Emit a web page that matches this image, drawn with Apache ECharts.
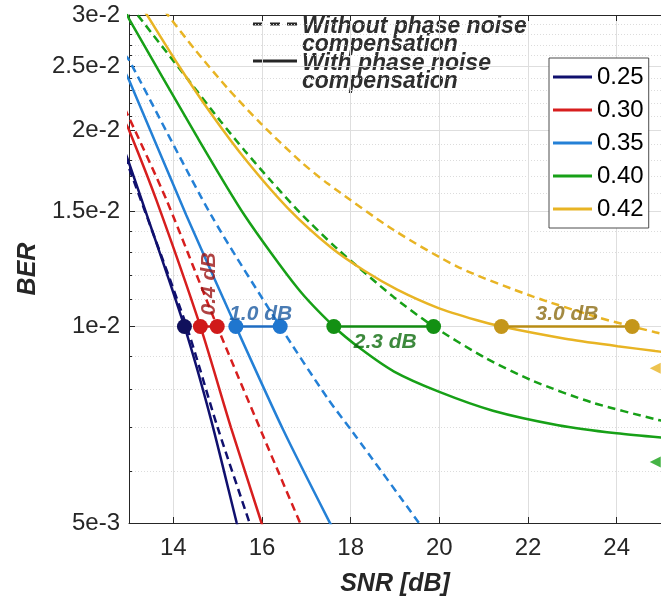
<!DOCTYPE html>
<html>
<head>
<meta charset="utf-8">
<script src="https://cdn.jsdelivr.net/npm/echarts@6/dist/echarts.min.js"></script>
<style>
  html, body { margin: 0; padding: 0; background: #fff; }
  #chart { width: 661px; height: 603px; }
</style>
</head>
<body>
<div id="chart"></div>
<script>
// ---- data ----
var snrTicks = [14, 16, 18, 20, 22, 24];
var berTicks = [0.005, 0.01, 0.015, 0.02, 0.025, 0.03];
var berTickLabels = ['5e-3', '1e-2', '1.5e-2', '2e-2', '2.5e-2', '3e-2'];
var berMinorTicks = [0.006, 0.007, 0.008, 0.009, 0.011, 0.012, 0.013, 0.014, 0.016, 0.017,
  0.018, 0.019, 0.021, 0.022, 0.023, 0.024, 0.026, 0.027, 0.028, 0.029];

var names = ['0.25', '0.30', '0.35', '0.40', '0.42'];

// with phase noise compensation (solid)
var snrWith025 = [12.9, 13, 13.29, 14.25, 14.85, 15.43, 15.55];
var berWith025 = [0.0186, 0.0178, 0.0156, 0.0100, 0.0072, 0.0050, 0.00465];
var snrWith030 = [12.9, 13, 13.62, 14.61, 15.30, 15.99, 16.1];
var berWith030 = [0.0206, 0.0200, 0.0156, 0.0100, 0.0070, 0.0050, 0.0047];
var snrWith035 = [12.9, 13, 14.29, 15.41, 16.48, 17.52, 17.65];
var berWith035 = [0.0246, 0.02385, 0.01482, 0.0100, 0.00694, 0.00502, 0.00485];
var snrWith040 = [12.95, 13, 14.52, 15.61, 16.81, 17.62, 18.22, 18.98, 20.0, 21.21, 22.68, 24.0, 25.1];
var berWith040 = [0.0301, 0.0296, 0.0196, 0.01479, 0.01143, 0.0100, 0.00925, 0.00853, 0.00794, 0.00743, 0.00706, 0.00686, 0.00675];
var snrWith042 = [13.3, 13.38, 14.12, 14.85, 15.61, 16.57, 17.55, 18.31, 19.05, 19.94, 20.83, 21.40, 22.84, 24.02, 24.87, 25.1];
var berWith042 = [0.0308, 0.0302, 0.02511, 0.02119, 0.01808, 0.01521, 0.01322, 0.01217, 0.01139, 0.0107, 0.01023, 0.0100, 0.00958, 0.00933, 0.00917, 0.00913];

// without phase noise compensation (dashed)
var snrWo025 = [12.9, 13, 14.3, 15.0, 15.72, 15.85];
var berWo025 = [0.0182, 0.0175, 0.0100, 0.0070, 0.0050, 0.0047];
var snrWo030 = [12.9, 13, 13.85, 14.99, 16.86, 17.0];
var berWo030 = [0.0216, 0.0209, 0.0156, 0.0100, 0.0050, 0.0048];
var snrWo035 = [12.9, 13, 14.85, 16.41, 17.48, 18.06, 19.54, 19.7];
var berWo035 = [0.0261, 0.0256, 0.01482, 0.0100, 0.00776, 0.00687, 0.0050, 0.0048];
var snrWo040 = [13.2, 14.34, 15.07, 15.61, 16.19, 16.86, 17.71, 18.98, 19.87, 21.05, 22.10, 23.44, 24.87, 25.1];
var berWo040 = [0.02996, 0.02385, 0.02061, 0.01859, 0.01675, 0.01493, 0.01313, 0.01108, 0.0100, 0.00894, 0.00826, 0.00765, 0.00721, 0.00715];
var snrWo042 = [13.8, 13.87, 14.49, 15.23, 15.97, 16.86, 17.48, 18.98, 20.45, 22.10, 23.57, 24.35, 24.87, 25.1];
var berWo042 = [0.0305, 0.03004, 0.02654, 0.02314, 0.02047, 0.01792, 0.01656, 0.01404, 0.01231, 0.01112, 0.01033, 0.0100, 0.0098, 0.00972];

// SNR needed for BER = 1e-2, with / without compensation
var targetBer = 0.01;
var gapSnr = [[14.25], [14.61, 14.99], [15.41, 16.41], [17.62, 19.87], [21.40, 24.35]];
var gapText = ['', '0.4 dB', '1.0 dB', '2.3 dB', '3.0 dB'];
var gapTextSnr = [0, 14.81, 15.97, 18.78, 22.88];
var gapTextBer = [0, 0.01162, 0.01044, 0.00947, 0.01044];

// arrow tips cut at the right border
var tipSnr = [24.87, 24.87];
var tipBer = [0.00863, 0.0062];

// ---- styles ----
var lineColors = ['#10106e', '#d71e1e', '#2480d6', '#17a017', '#e8b424'];
var markColors = ['#10105c', '#d01a1a', '#1f76cf', '#139013', '#c4961a'];
var gapLineColors = ['#10105c', '#c81818', '#1f6cc2', '#118a11', '#b88c14'];
var gapTextColors = ['#000', '#9c1414', '#1b5aa0', '#0d6b0d', '#8c6d14'];
var font = 'Liberation Sans, Arial, Helvetica, sans-serif';
var axisColor = '#262626';

function zip(xs, ys) {
  return xs.map(function (x, i) { return [x, ys[i]]; });
}

var withData = [zip(snrWith025, berWith025), zip(snrWith030, berWith030), zip(snrWith035, berWith035),
  zip(snrWith040, berWith040), zip(snrWith042, berWith042)];
var woData = [zip(snrWo025, berWo025), zip(snrWo030, berWo030), zip(snrWo035, berWo035),
  zip(snrWo040, berWo040), zip(snrWo042, berWo042)];

var series = [];
names.forEach(function (n, i) {
  series.push({
    name: n + ' w/o', type: 'line', data: woData[i], smooth: 0.25,
    showSymbol: false, symbol: 'none', clip: true, z: 2,
    lineStyle: { color: lineColors[i], width: 2.5, type: [8, 5] }
  });
});
names.forEach(function (n, i) {
  series.push({
    name: n, type: 'line', data: withData[i], smooth: 0.25,
    showSymbol: false, symbol: 'none', clip: true, z: 3,
    itemStyle: { color: lineColors[i] },
    lineStyle: { color: lineColors[i], width: 2.5 }
  });
});
gapSnr.forEach(function (xs, i) {
  series.push({
    name: 'gap' + i, type: 'line', z: 4,
    data: xs.map(function (x) { return [x, targetBer]; }),
    symbol: 'circle', symbolSize: 15, showSymbol: true,
    itemStyle: { color: markColors[i] },
    lineStyle: { color: gapLineColors[i], width: 2.5 }
  });
});
series.push({
  name: 'gapText', type: 'scatter', z: 5, symbolSize: 0,
  data: gapText.map(function (t, i) {
    return {
      value: [gapTextSnr[i], gapTextBer[i]], name: t,
      label: { color: gapTextColors[i], rotate: i === 1 ? 90 : 0 }
    };
  }).filter(function (d) { return d.name !== ''; }),
  label: {
    show: true, position: 'inside', formatter: '{b}',
    fontFamily: font, fontSize: 21, fontWeight: 'bold', fontStyle: 'italic'
  }
});
series.push({
  name: 'tips', type: 'scatter', z: 4, symbol: 'triangle', symbolSize: 11, symbolRotate: 90,
  data: zip(tipSnr, tipBer).map(function (d, i) {
    return { value: d, itemStyle: { color: i === 0 ? lineColors[4] : lineColors[3] } };
  })
});

var option = {
  animation: false,
  textStyle: { fontFamily: font },
  grid: { left: 129, top: 15, width: 538, height: 508, containLabel: false },
  legend: {
    data: names, orient: 'vertical', left: 549, top: 58,
    selectedMode: false, icon: 'rect', itemWidth: 39, itemHeight: 3, itemGap: 9,
    padding: [7, 5, 7, 4], borderColor: '#4d4d4d', borderWidth: 1, backgroundColor: '#fff',
    textStyle: { fontFamily: font, fontSize: 24, color: '#000', lineHeight: 24, padding: [0, 0, 0, 0] }
  },
  xAxis: [{
    type: 'value', min: 13, max: 25, position: 'bottom',
    name: 'SNR [dB]', nameLocation: 'middle', nameGap: 49,
    nameTextStyle: { fontFamily: font, fontSize: 25, fontWeight: 'bold', fontStyle: 'italic', color: axisColor },
    axisLine: { show: true, onZero: false, lineStyle: { color: axisColor, width: 1 } },
    axisTick: { show: true, inside: true, length: 6, customValues: snrTicks, lineStyle: { color: axisColor } },
    axisLabel: { customValues: snrTicks, fontSize: 24, color: axisColor, margin: 13 },
    splitLine: { show: true, lineStyle: { color: '#dedede', width: 1 } }
  }, {
    type: 'value', min: 13, max: 25, position: 'top',
    axisLine: { show: true, onZero: false, lineStyle: { color: axisColor, width: 1 } },
    axisTick: { show: true, inside: true, length: 6, customValues: snrTicks, lineStyle: { color: axisColor } },
    axisLabel: { show: false },
    splitLine: { show: false }
  }],
  yAxis: [{
    type: 'log', logBase: 10, min: 0.005, max: 0.03, position: 'left',
    name: 'BER', nameLocation: 'middle', nameGap: 88,
    nameTextStyle: { fontFamily: font, fontSize: 25, fontWeight: 'bold', fontStyle: 'italic', color: axisColor },
    axisLine: { show: true, onZero: false, lineStyle: { color: axisColor, width: 1 } },
    axisTick: { show: true, inside: true, length: 6, customValues: berTicks, lineStyle: { color: axisColor } },
    axisLabel: {
      customValues: berTicks, fontSize: 24, color: axisColor, margin: 9,
      formatter: function (v) {
        for (var i = 0; i < berTicks.length; i++) {
          if (Math.abs(berTicks[i] - v) / berTicks[i] < 1e-4) return berTickLabels[i];
        }
        return '';
      }
    },
    splitLine: { show: true, lineStyle: { color: '#dedede', width: 1 } }
  }, {
    type: 'log', logBase: 10, min: 0.005, max: 0.03, position: 'left',
    axisLine: { show: false },
    axisTick: { show: true, inside: true, length: 3, customValues: berMinorTicks, lineStyle: { color: axisColor } },
    axisLabel: { show: false },
    splitLine: { show: true, lineStyle: { color: '#dcdcdc', width: 1, type: [1, 2] } }
  }],
  graphic: [
    { type: 'line', shape: { x1: 253, y1: 24, x2: 263, y2: 24 }, style: { stroke: '#262626', lineWidth: 3 } },
    { type: 'line', shape: { x1: 270, y1: 24, x2: 280, y2: 24 }, style: { stroke: '#262626', lineWidth: 3 } },
    { type: 'line', shape: { x1: 287, y1: 24, x2: 297, y2: 24 }, style: { stroke: '#262626', lineWidth: 3 } },
    { type: 'line', shape: { x1: 253, y1: 61, x2: 297, y2: 61 }, style: { stroke: '#262626', lineWidth: 3 } },
    { type: 'text', left: 302, top: 15,
      style: { text: 'Without phase noise\ncompensation', fill: '#2e2e2e', font: 'italic bold 23px ' + font, lineHeight: 18 } },
    { type: 'text', left: 302, top: 52,
      style: { text: 'With phase noise\ncompensation', fill: '#2e2e2e', font: 'italic bold 23px ' + font, lineHeight: 18 } }
  ],
  series: series
};

var chart = echarts.init(document.getElementById('chart'), null, { renderer: 'canvas' });
chart.setOption(option);
window.addEventListener('resize', chart.resize);
</script>
</body>
</html>
